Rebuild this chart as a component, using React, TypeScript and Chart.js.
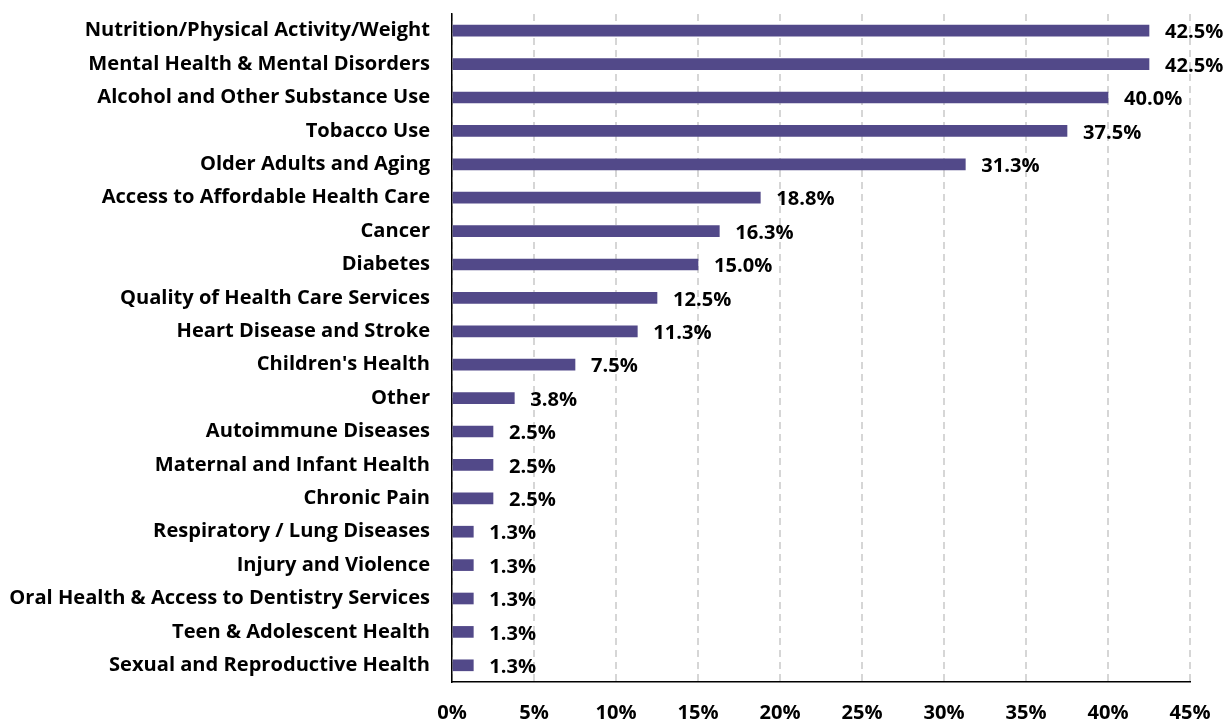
import React, { useEffect, useRef } from "react";
import { Chart, registerables } from "chart.js";

Chart.register(...registerables);

const categories = [
  "Nutrition/Physical Activity/Weight",
  "Mental Health & Mental Disorders",
  "Alcohol and Other Substance Use",
  "Tobacco Use",
  "Older Adults and Aging",
  "Access to Affordable Health Care",
  "Cancer",
  "Diabetes",
  "Quality of Health Care Services",
  "Heart Disease and Stroke",
  "Children's Health",
  "Other",
  "Autoimmune Diseases",
  "Maternal and Infant Health",
  "Chronic Pain",
  "Respiratory / Lung Diseases",
  "Injury and Violence",
  "Oral Health & Access to Dentistry Services",
  "Teen & Adolescent Health",
  "Sexual and Reproductive Health",
];

const values = [42.5, 42.5, 40.0, 37.5, 31.3, 18.8, 16.3, 15.0, 12.5, 11.3, 7.5, 3.8, 2.5, 2.5, 2.5, 1.3, 1.3, 1.3, 1.3, 1.3];

const xTicks = [0, 5, 10, 15, 20, 25, 30, 35, 40, 45];

const FONT = "'Open Sans', Lato, sans-serif";

function fitSize(): number {
  const c = document.createElement("canvas").getContext("2d")!;
  c.font = `bold 18px ${FONT}`;
  const w = c.measureText(categories[0]).width;
  return Math.round(((18 * 345) / w) * 10) / 10;
}

export default function App() {
  const ref = useRef<HTMLCanvasElement>(null);
  useEffect(() => {
    document.body.style.margin = "0";
    const size = fitSize();
    const dataLabels = {
      id: "dataLabels",
      afterDatasetsDraw(chart: any) {
        const ctx = chart.ctx;
        const meta = chart.getDatasetMeta(0);
        ctx.save();
        ctx.font = `bold ${size}px ${FONT}`;
        ctx.fillStyle = "#000";
        ctx.textAlign = "left";
        ctx.textBaseline = "middle";
        meta.data.forEach((bar: any, i: number) => {
          ctx.fillText(values[i].toFixed(1) + "%", bar.x + 16, bar.y + 2);
        });
        ctx.restore();
      },
    };
    const chart = new Chart(ref.current!, {
      type: "bar",
      data: {
        labels: categories,
        datasets: [
          {
            data: values,
            backgroundColor: "#524989",
            barThickness: 11,
          },
        ],
      },
      options: {
        indexAxis: "y",
        animation: false,
        responsive: false,
        layout: { padding: { top: 14, right: 39, left: 0, bottom: 0 } },
        plugins: { legend: { display: false }, tooltip: { enabled: false } },
        scales: {
          x: {
            min: 0,
            max: 45,
            afterBuildTicks: (s: any) => {
              s.ticks = xTicks.map((v) => ({ value: v }));
            },
            afterFit: (s: any) => {
              s.height = 39;
              s.paddingLeft = 0;
              s.paddingRight = 0;
            },
            grid: {
              display: true,
              color: "#d6d6d6",
              lineWidth: 2,
              drawTicks: false,
            },
            border: { display: true, color: "#000", width: 1.5, dash: [7, 5] },
            ticks: {
              padding: 19,
              color: "#000",
              font: { family: FONT, size, weight: "bold" },
              callback: (v: any) => v + "%",
            },
          },
          y: {
            afterFit: (s: any) => {
              s.width = 452;
              s.paddingTop = 0;
              s.paddingBottom = 0;
            },
            grid: { display: false, drawTicks: false },
            border: { display: true, color: "#000", width: 1.5 },
            ticks: {
              padding: 22,
              color: "#000",
              autoSkip: false,
              font: { family: FONT, size, weight: "bold" },
            },
          },
        },
      },
      plugins: [dataLabels],
    });
    return () => chart.destroy();
  }, []);
  return <canvas ref={ref} width={1229} height={721} style={{ display: "block" }} />;
}
